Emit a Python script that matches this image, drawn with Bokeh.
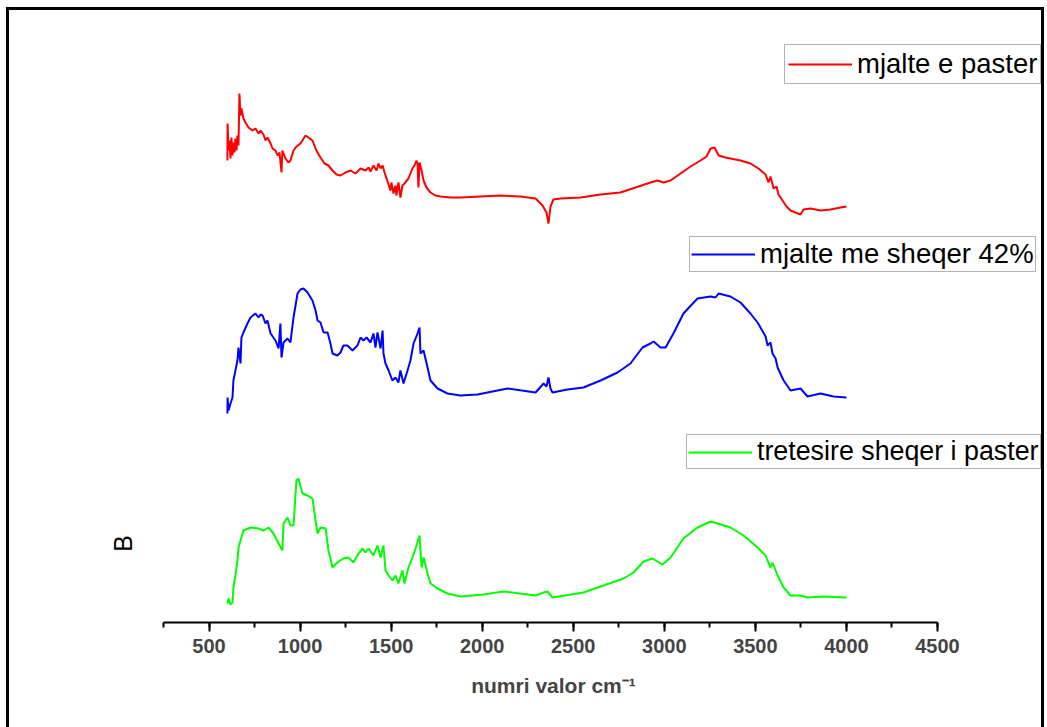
import math
from bokeh.plotting import figure
from bokeh.models import Range1d, SingleIntervalTicker, Legend, LegendItem, Label
from bokeh.embed import file_html
from bokeh.resources import INLINE

# ---- data (wavenumber cm-1, offset absorbance) ----
red_x = [601, 602, 607, 612, 618, 623, 629, 634, 640, 645, 651, 656, 662, 667, 673, 678, 689, 700, 717, 739,
         755, 772, 783, 799, 810, 821, 838, 849, 865, 876, 887, 898, 903, 920, 936, 947, 964, 980, 1002, 1030,
         1046, 1068, 1090, 1112, 1134, 1156, 1178, 1200, 1222, 1249, 1277, 1304, 1332, 1359, 1376, 1387, 1403,
         1420, 1431, 1442, 1453, 1464, 1475, 1486, 1496, 1502, 1513, 1524, 1529, 1540, 1551, 1562, 1573, 1595,
         1617, 1628, 1639, 1645, 1650, 1656, 1667, 1678, 1694, 1716, 1744, 1771, 1826, 1881, 1991, 2100, 2210,
         2293, 2331, 2353, 2364, 2375, 2391, 2430, 2540, 2650, 2759, 2842, 2924, 2963, 2996, 3034, 3089, 3144,
         3199, 3232, 3254, 3276, 3298, 3336, 3418, 3473, 3517, 3556, 3572, 3583, 3600, 3616, 3627, 3649, 3671,
         3693, 3720, 3748, 3764, 3803, 3858, 3913, 3968, 4000]
red_y = [4.62, 4.99, 4.72, 4.82, 4.64, 4.85, 4.67, 4.80, 4.70, 4.84, 4.72, 4.87, 4.77, 5.29, 5.07, 5.14, 5.04,
         5.00, 4.95, 4.92, 4.94, 4.89, 4.92, 4.88, 4.82, 4.85, 4.79, 4.74, 4.72, 4.67, 4.70, 4.50, 4.72, 4.64,
         4.60, 4.62, 4.72, 4.76, 4.79, 4.87, 4.85, 4.82, 4.72, 4.65, 4.59, 4.57, 4.52, 4.48, 4.47, 4.50, 4.52,
         4.49, 4.54, 4.52, 4.55, 4.51, 4.57, 4.52, 4.59, 4.54, 4.57, 4.50, 4.44, 4.38, 4.32, 4.40, 4.29, 4.37,
         4.27, 4.40, 4.25, 4.37, 4.39, 4.44, 4.54, 4.57, 4.62, 4.59, 4.35, 4.60, 4.52, 4.42, 4.35, 4.30, 4.27,
         4.26, 4.25, 4.25, 4.26, 4.27, 4.26, 4.24, 4.17, 4.10, 3.99, 4.16, 4.23, 4.24, 4.25, 4.28, 4.30, 4.35,
         4.40, 4.42, 4.40, 4.42, 4.49, 4.56, 4.62, 4.66, 4.74, 4.75, 4.67, 4.65, 4.62, 4.59, 4.54, 4.48, 4.40,
         4.46, 4.34, 4.36, 4.28, 4.22, 4.16, 4.12, 4.10, 4.08, 4.13, 4.14, 4.12, 4.13, 4.15, 4.16]

blue_x = [601, 602, 607, 618, 629, 634, 645, 656, 662, 673, 678, 689, 711, 728, 755, 772, 783, 794, 810, 821,
          838, 865, 882, 892, 898, 909, 931, 947, 964, 986, 1002, 1019, 1041, 1068, 1085, 1096, 1112, 1129,
          1151, 1167, 1178, 1205, 1222, 1238, 1260, 1288, 1315, 1332, 1348, 1365, 1387, 1403, 1414, 1425, 1442,
          1453, 1458, 1469, 1486, 1507, 1524, 1540, 1551, 1568, 1590, 1606, 1623, 1645, 1656, 1661, 1678, 1700,
          1716, 1755, 1809, 1881, 1974, 2139, 2293, 2337, 2353, 2364, 2375, 2386, 2468, 2556, 2650, 2743, 2814,
          2880, 2924, 2941, 2979, 3007, 3050, 3105, 3182, 3254, 3281, 3298, 3363, 3418, 3473, 3512, 3528, 3556,
          3567, 3583, 3594, 3611, 3622, 3655, 3693, 3748, 3786, 3858, 3929, 4000]
blue_y = [2.09, 2.25, 2.12, 2.19, 2.25, 2.42, 2.52, 2.62, 2.75, 2.59, 2.85, 2.90, 2.99, 3.05, 3.09, 3.05, 3.08,
          3.07, 2.99, 3.02, 2.89, 2.82, 2.74, 2.99, 2.65, 2.80, 2.84, 2.80, 3.05, 3.29, 3.33, 3.34, 3.30, 3.22,
          3.12, 3.02, 3.00, 2.90, 2.90, 2.79, 2.69, 2.67, 2.70, 2.77, 2.77, 2.72, 2.77, 2.85, 2.82, 2.85, 2.80,
          2.89, 2.75, 2.90, 2.74, 2.92, 2.69, 2.59, 2.52, 2.42, 2.45, 2.40, 2.52, 2.39, 2.52, 2.62, 2.79, 2.89,
          2.95, 2.69, 2.72, 2.55, 2.42, 2.34, 2.29, 2.27, 2.28, 2.34, 2.30, 2.39, 2.36, 2.45, 2.34, 2.30, 2.33,
          2.35, 2.42, 2.50, 2.59, 2.75, 2.79, 2.81, 2.75, 2.75, 2.89, 3.09, 3.24, 3.26, 3.25, 3.29, 3.26, 3.20,
          3.09, 3.00, 2.95, 2.86, 2.77, 2.80, 2.69, 2.64, 2.55, 2.42, 2.32, 2.34, 2.26, 2.29, 2.26, 2.25]

green_x = [601, 607, 618, 629, 634, 645, 656, 662, 673, 689, 728, 772, 799, 827, 854, 882, 903, 909, 931, 947,
           964, 980, 991, 1013, 1041, 1068, 1085, 1096, 1112, 1140, 1156, 1178, 1205, 1238, 1266, 1293, 1321,
           1343, 1359, 1376, 1403, 1425, 1442, 1458, 1469, 1486, 1507, 1524, 1540, 1562, 1573, 1595, 1617, 1634,
           1656, 1667, 1678, 1700, 1716, 1755, 1809, 1881, 2007, 2117, 2293, 2337, 2359, 2386, 2556, 2650, 2776,
           2831, 2886, 2935, 2990, 3034, 3105, 3182, 3254, 3292, 3363, 3435, 3512, 3556, 3567, 3583, 3594, 3622,
           3655, 3693, 3748, 3786, 3874, 4000]
green_y = [0.19, 0.24, 0.18, 0.20, 0.35, 0.47, 0.62, 0.75, 0.82, 0.92, 0.95, 0.94, 0.92, 0.95, 0.89, 0.79,
           0.72, 0.99, 1.05, 0.97, 0.97, 1.42, 1.44, 1.29, 1.27, 1.24, 1.02, 0.89, 0.95, 0.94, 0.72, 0.55, 0.60,
           0.64, 0.65, 0.60, 0.69, 0.74, 0.70, 0.74, 0.67, 0.77, 0.65, 0.77, 0.52, 0.47, 0.42, 0.47, 0.39, 0.52,
           0.39, 0.55, 0.65, 0.74, 0.87, 0.55, 0.65, 0.49, 0.39, 0.34, 0.29, 0.26, 0.28, 0.31, 0.27, 0.30, 0.31,
           0.25, 0.30, 0.36, 0.44, 0.50, 0.61, 0.64, 0.58, 0.65, 0.84, 0.95, 1.01, 0.99, 0.95, 0.87, 0.75, 0.67,
           0.62, 0.55, 0.60, 0.47, 0.35, 0.27, 0.27, 0.25, 0.26, 0.25]

labels = ["mjalte e paster", "mjalte me sheqer 42%", "tretesire sheqer i paster"]
x_title = "numri valor cm\u207b\u00b9"
y_title = "B"

FONT = "Liberation Sans"

p = figure(width=1032, height=717, output_backend="svg", toolbar_location=None,
           x_range=Range1d(-288, 5071), y_range=Range1d(0, 6.12),
           min_border_left=56, min_border_right=0, min_border_top=0, min_border_bottom=105)
# page frame drawn around the figure
p.styles = {"margin-left": "9px", "margin-top": "10px",
            "outline": "3px solid black", "outline-offset": "0px"}
p.background_fill_color = "white"
p.border_fill_color = "white"
p.outline_line_color = None
p.grid.visible = False

# x axis
xa = p.xaxis[0]
xa.bounds = (250, 4500)
xa.ticker = SingleIntervalTicker(interval=500, num_minor_ticks=2)
xa.axis_line_width = 2
xa.major_tick_line_width = 2
xa.minor_tick_line_width = 2
xa.major_tick_in = 0
xa.major_tick_out = 9
xa.minor_tick_in = 0
xa.minor_tick_out = 5
xa.major_label_text_font = FONT
xa.major_label_text_font_style = "bold"
xa.major_label_text_font_size = "20px"
xa.major_label_standoff = 7
xa.axis_label = x_title
xa.axis_label_text_font = FONT
xa.axis_label_text_font_style = "bold"
xa.axis_label_text_font_size = "21px"
xa.axis_label_standoff = 18

# y axis: hidden, its title is drawn as a label next to the lower spectrum
p.yaxis.visible = False
p.add_layout(Label(x=30, y=0.79, text=y_title, angle=math.pi / 2, text_align="center",
                   text_baseline="middle", text_font=FONT, text_font_size="25px", text_color="black"))

r_red = p.line(red_x, red_y, line_color="#ff0000", line_width=2)
r_blue = p.line(blue_x, blue_y, line_color="#0000ff", line_width=2)
r_green = p.line(green_x, green_y, line_color="#00ff00", line_width=2)

for r, lab, loc, pad, fs in [(r_red, labels[0], (719, 538), 3, "27.5px"), (r_blue, labels[1], (624, 350), 1, "27.5px"),
                             (r_green, labels[2], (621, 153), 1, "26.8px")]:
    leg = Legend(items=[LegendItem(label=lab, renderers=[r])], location=loc,
                 border_line_color="#666666", border_line_width=1, background_fill_color="white",
                 background_fill_alpha=1.0, padding=pad, margin=0, spacing=0,
                 glyph_width=64, glyph_height=28, label_standoff=5, label_height=28,
                 label_text_font=FONT, label_text_font_size=fs, label_text_color="black")
    p.add_layout(leg)

open("out.html", "w").write(file_html(p, INLINE))
